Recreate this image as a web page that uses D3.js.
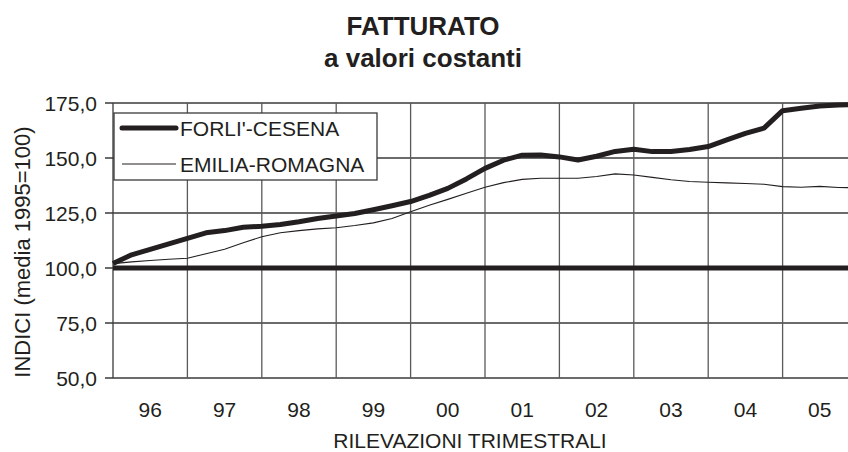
<!DOCTYPE html>
<html>
<head>
<meta charset="utf-8">
<script src="https://cdn.jsdelivr.net/npm/d3@7"></script>
<style>
  body { margin: 0; background: #fff; }
  svg { display: block; font-family: "Liberation Sans", Arial, sans-serif; }
</style>
</head>
<body>
<div id="mainDiv"></div>
<script>

// year labels, one per group of 4 quarters
var yearLabels = ["96","97","98","99","00","01","02","03","04","05"];

// quarterly index values (media 1995=100)
var forliCesena = [102, 106, 108.5, 111, 113.5, 116, 117, 118.5, 119, 119.8,
                   121, 122.5, 123.6, 124.8, 126.5, 128.3, 130.2, 133, 136.2, 140.5,
                   145.3, 149, 151.3, 151.4, 150.5, 149.1, 150.8, 153, 154, 152.9,
                   153, 153.9, 155.2, 158.2, 161.2, 163.6, 171.5, 172.6, 173.6, 174.1,
                   174.3];

var emiliaRomagna = [102, 102.8, 103.4, 104, 104.4, 106.5, 108.5, 111.5, 114.2, 116,
                     117, 117.8, 118.3, 119.3, 120.5, 122.5, 125.6, 128.5, 131.2, 134,
                     136.7, 138.8, 140.3, 140.8, 140.8, 140.8, 141.6, 142.8, 142.3, 141.2,
                     140.1, 139.3, 139, 138.7, 138.4, 138.1, 137, 136.7, 137.1, 136.6,
                     136.5];

var yTicks = [50, 75, 100, 125, 150, 175];
var baseValue = 100;

var seriesNames = ["FORLI'-CESENA", "EMILIA-ROMAGNA"];

var lineColor = "#231f20";
var gridColor = "#3a3a3a";

var plotLeft = 113, plotRight = 857, plotTop = 103, plotBottom = 378;

function drawChart(){

    var canvas = d3.select("#mainDiv").append("svg")
            .attr("width", 848).attr("height", 452).attr("id", "mainCanvas");

    var x = d3.scaleLinear().domain([0, yearLabels.length * 4]).range([plotLeft, plotRight]);
    var y = d3.scaleLinear().domain([50, 175]).range([plotBottom, plotTop]);

    // title
    canvas.append("text").attr("x", 423).attr("y", 35).attr("text-anchor", "middle")
        .attr("font-size", 26).attr("font-weight", "bold").attr("fill", "#231f20")
        .text("FATTURATO");
    canvas.append("text").attr("x", 423).attr("y", 67).attr("text-anchor", "middle")
        .attr("font-size", 26).attr("font-weight", "bold").attr("fill", "#231f20")
        .text("a valori costanti");

    // horizontal grid
    canvas.append("g").selectAll("line").data(yTicks).join("line")
        .attr("x1", plotLeft - 8).attr("x2", plotRight)
        .attr("y1", function(d){ return y(d); }).attr("y2", function(d){ return y(d); })
        .attr("stroke", gridColor).attr("stroke-width", 1.3);

    // vertical grid, one per year boundary
    var bounds = d3.range(0, yearLabels.length + 1).map(function(i){ return i * 4; });
    canvas.append("g").selectAll("line").data(bounds).join("line")
        .attr("x1", function(d){ return x(d); }).attr("x2", function(d){ return x(d); })
        .attr("y1", plotTop).attr("y2", plotBottom)
        .attr("stroke", function(d){ return d === 0 ? gridColor : "#5a5a5a"; })
        .attr("stroke-width", 1.3);

    // y tick labels
    canvas.append("g").selectAll("text").data(yTicks).join("text")
        .attr("x", 97).attr("y", function(d){ return y(d); }).attr("dy", "0.36em")
        .attr("text-anchor", "end").attr("font-size", 21).attr("fill", "#231f20")
        .text(function(d){ return d3.format(".1f")(d).replace(".", ","); });

    // x year labels
    canvas.append("g").selectAll("text").data(yearLabels).join("text")
        .attr("x", function(d, i){ return x(i * 4 + 2); }).attr("y", 417)
        .attr("text-anchor", "middle").attr("font-size", 21).attr("fill", "#231f20")
        .text(function(d){ return d; });

    // axis titles
    canvas.append("text").attr("x", 470).attr("y", 448).attr("text-anchor", "middle")
        .attr("font-size", 21).attr("fill", "#231f20").text("RILEVAZIONI TRIMESTRALI");
    canvas.append("text").attr("transform", "translate(30,252) rotate(-90)")
        .attr("text-anchor", "middle").attr("font-size", 22).attr("fill", "#231f20")
        .text("INDICI (media 1995=100)");

    // base line at 100
    canvas.append("line").attr("x1", plotLeft).attr("x2", plotRight)
        .attr("y1", y(baseValue)).attr("y2", y(baseValue))
        .attr("stroke", lineColor).attr("stroke-width", 5);

    var line = d3.line().x(function(d, i){ return x(i); }).y(function(d){ return y(d); });

    canvas.append("path").datum(emiliaRomagna).attr("d", line)
        .attr("fill", "none").attr("stroke", lineColor).attr("stroke-width", 1.1);
    canvas.append("path").datum(forliCesena).attr("d", line)
        .attr("fill", "none").attr("stroke", lineColor).attr("stroke-width", 5)
        .attr("stroke-linejoin", "round");

    // legend
    var legend = canvas.append("g");
    legend.append("rect").attr("x", 114).attr("y", 113).attr("width", 263).attr("height", 67)
        .attr("fill", "#fff").attr("stroke", gridColor).attr("stroke-width", 1.3);
    var legendWidths = [5, 1.1];
    var legendYs = [128, 164];
    for(var i = 0; i < seriesNames.length; i++){
        legend.append("line").attr("x1", 122).attr("x2", 176)
            .attr("y1", legendYs[i]).attr("y2", legendYs[i])
            .attr("stroke", lineColor).attr("stroke-width", legendWidths[i])
            .attr("stroke-linecap", i === 0 ? "round" : "butt");
        legend.append("text").attr("x", 180).attr("y", legendYs[i]).attr("dy", "0.36em")
            .attr("font-size", 21).attr("fill", "#231f20").text(seriesNames[i]);
    }
}

drawChart();

</script>
</body>
</html>
